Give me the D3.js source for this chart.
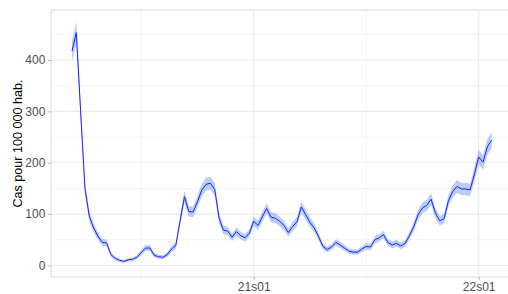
<!DOCTYPE html>
<html><head><meta charset="utf-8">
<script src="https://cdn.jsdelivr.net/npm/d3@7"></script>
<style>body{margin:0;background:#fff}svg{display:block}</style>
</head><body>
<svg id="c" width="508" height="294"></svg>
<script>
const weeks = [
"20s12","20s13","20s14","20s15","20s16","20s17","20s18","20s19","20s20","20s21","20s22","20s23","20s24","20s25","20s26","20s27","20s28","20s29","20s30","20s31","20s32","20s33","20s34","20s35","20s36","20s37","20s38","20s39","20s40","20s41","20s42","20s43","20s44","20s45","20s46","20s47","20s48","20s49","20s50","20s51","20s52","20s53",
"21s01","21s02","21s03","21s04","21s05","21s06","21s07","21s08","21s09","21s10","21s11","21s12","21s13","21s14","21s15","21s16","21s17","21s18","21s19","21s20","21s21","21s22","21s23","21s24","21s25","21s26","21s27","21s28","21s29","21s30","21s31","21s32","21s33","21s34","21s35","21s36","21s37","21s38","21s39","21s40","21s41","21s42","21s43","21s44","21s45","21s46","21s47","21s48","21s49","21s50","21s51","21s52",
"22s01","22s02","22s03","22s04"];
const rate = [417,453,300,150,96,73,57,45,44,21,14,10,8,11,12,16,25,34,34,20,17,16,21,32,39,88,134,105,104,124,147,158,160,148,92,69,67,55,66,58,54,63,
86,78,95,111,94,92,86,78,64,76,85,114,99,84,73,56,37,31,36,45,40,34,28,26,26,32,37,36,50,54,60,45,40,43,38,43,58,76,99,112,117,129,102,87,91,126,144,154,149,149,147,177,
211,201,231,244];
const halfCI = [20,21,17,12,10,8.5,7.5,6.7,6.6,4.6,3.7,3.2,2.8,3.3,3.5,4,5,5.8,5.8,4.5,4.1,4,4.6,5.7,6.2,9.4,11.6,10.2,10.2,11.1,12.1,12.6,12.6,12.2,9.6,8.3,8.2,7.4,8.1,7.6,7.3,7.9,
9.3,8.8,9.7,10.5,9.7,9.6,9.3,8.8,8,8.7,9.2,10.7,9.9,9.2,8.5,7.5,6.1,5.6,6,6.7,6.3,5.8,5.3,5.1,5.1,5.7,6.1,6,7.1,7.3,7.7,6.7,6.3,6.6,6.2,6.6,7.6,8.7,9.9,10.6,10.8,11.4,10.1,9.3,9.5,11.2,12,12.4,12.2,12.2,12.1,13.3,
14.5,14.2,15.2,15.6];
const xTickLabels = ["21s01","22s01"];
const xMinorLabels = ["20s28","21s27"];
const yTicks = [0,100,200,300,400];
const yMinor = [50,150,250,350,450];
const yTitle = "Cas pour 100 000 hab.";

const data = weeks.map((w,i)=>({w, i, v:rate[i], lo:rate[i]-halfCI[i], hi:rate[i]+halfCI[i]}));

const svg = d3.select("#c");
const L = 51, T = 10, B = 277;
const n = weeks.length;
const idx = w => weeks.indexOf(w);
// x: week index, 5% expansion
const x = d3.scaleLinear().domain([-0.05*(n-1), (n-1)*1.05]).range([L, L + 4.3266*(n-1)*1.1]);
const y = d3.scaleLinear().domain([-22.4, 497.3]).range([B, T]);
const R = x.range()[1];

const font = "'Liberation Sans', Arial, Helvetica, sans-serif";
const g = svg.append("g");
// minor grid
g.selectAll(".ym").data(yMinor).join("line").attr("x1",L).attr("x2",R)
  .attr("y1",d=>y(d)).attr("y2",d=>y(d)).attr("stroke","#f4f4f4").attr("stroke-width",1);
g.selectAll(".xm").data(xMinorLabels).join("line").attr("y1",T).attr("y2",B)
  .attr("x1",d=>x(idx(d))).attr("x2",d=>x(idx(d))).attr("stroke","#f4f4f4").attr("stroke-width",1);
// major grid
g.selectAll(".yM").data(yTicks).join("line").attr("x1",L).attr("x2",R)
  .attr("y1",d=>y(d)).attr("y2",d=>y(d)).attr("stroke","#ebebeb").attr("stroke-width",1.1);
g.selectAll(".xM").data(xTickLabels).join("line").attr("y1",T).attr("y2",B)
  .attr("x1",d=>x(idx(d))).attr("x2",d=>x(idx(d))).attr("stroke","#ebebeb").attr("stroke-width",1.1);

// band
g.append("path").datum(data)
  .attr("d", d3.area().x(d=>x(d.i)).y0(d=>y(d.lo)).y1(d=>y(d.hi)))
  .attr("fill","#6f9ff0").attr("fill-opacity",0.5);
// line
g.append("path").datum(data)
  .attr("d", d3.line().x(d=>x(d.i)).y(d=>y(d.v)))
  .attr("fill","none").attr("stroke","#1f1fff").attr("stroke-width",1);

// panel border
g.append("rect").attr("x",L).attr("y",T).attr("width",R-L).attr("height",B-T)
  .attr("fill","none").attr("stroke","#d9d9d9").attr("stroke-width",1);

// axes
const xAxis = d3.axisBottom(x).tickValues(xTickLabels.map(idx)).tickFormat(i=>weeks[i]).tickSize(2.7).tickPadding(3);
const ax = svg.append("g").attr("transform",`translate(0,${B})`).call(xAxis);
const yAxis = d3.axisLeft(y).tickValues(yTicks).tickSize(2.7).tickPadding(3);
const ay = svg.append("g").attr("transform",`translate(${L},0)`).call(yAxis);
[ax,ay].forEach(a=>{
  a.select(".domain").remove();
  a.selectAll(".tick line").attr("stroke","#b3b3b3");
  a.selectAll("text").attr("fill","#4d4d4d").style("font-family",font).style("font-size","12px");
});

svg.append("text").attr("transform",`translate(22,${(T+B)/2}) rotate(-90)`)
  .attr("text-anchor","middle").style("font-family",font).style("font-size","12.6px")
  .attr("fill","#000").text(yTitle);
</script>
</body></html>
